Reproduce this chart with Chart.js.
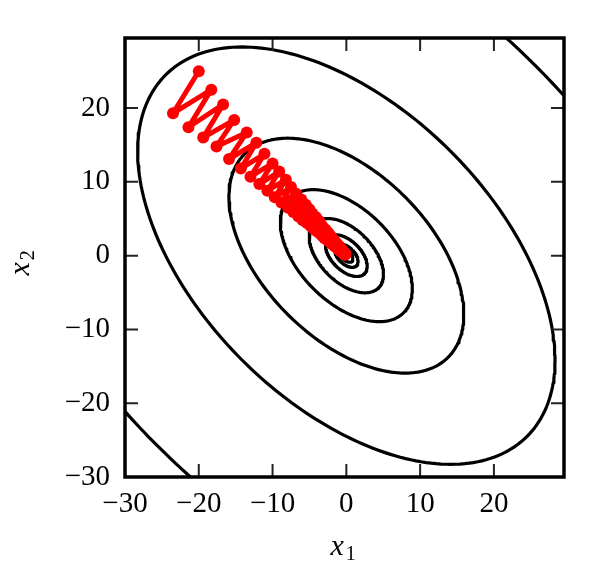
<!DOCTYPE html>
<html lang="en">
<head>
    <meta charset="UTF-8">
    <title>Gradient descent contours</title>
    <script src="https://cdn.jsdelivr.net/npm/chart.js@4.4.1/dist/chart.umd.min.js"></script>
    <style>
        body { margin: 0; background: #fff; }
        canvas { display: block; }
    </style>
</head>
<body>
    <canvas id="myChart" width="598" height="580"></canvas>
    <script>
        // axis range and tick labels
        const axisMin = -30;
        const axisMax = 29.5;
        const xTicks = [-30, -20, -10, 0, 10, 20];
        const yTicks = [-30, -20, -10, 0, 10, 20];

        // quadratic f(x) = 0.5 x^T H x, contour levels
        const hessian = [[1, 0.5], [0.5, 1]];
        const contourLevels = [0.3, 0.95, 3, 9.5, 30, 95, 300, 990];

        // gradient descent iterates
        const pathX = [-20.0, -23.5, -18.3, -21.4, -16.7, -19.4, -15.2, -17.6, -13.5, -15.9,
            -12.2, -14.3, -11.1, -13.0, -10.0, -11.8, -9.1, -10.7, -8.2, -9.7,
            -7.5, -8.8, -6.8, -7.9, -6.1, -7.2, -5.5, -6.5, -5.0, -5.9,
            -4.6, -5.3, -4.1, -4.8, -3.7, -4.4, -3.4, -4.0, -3.1, -3.6,
            -2.8, -3.3, -2.5, -3.0, -2.3, -2.7, -2.1, -2.4, -1.9, -2.2,
            -1.7, -2.0, -1.5, -1.8, -1.4, -1.6, -1.3, -1.5, -1.1, -1.3,
            -1.0, -1.2, -0.94, -1.1, -0.85, -1.0, -0.77, -0.9, -0.7, -0.82,
            -0.63, -0.74, -0.57, -0.67, -0.52, -0.61, -0.47, -0.55, -0.43, -0.5,
            -0.39, -0.45, -0.35, -0.41, -0.32, -0.37, -0.29, -0.34, -0.26, -0.31,
            -0.24, -0.28, -0.21, -0.25, -0.19, -0.23, -0.18, -0.21, -0.16, -0.19,
            -0.14, -0.17];
        const pathY = [25.0, 19.3, 22.5, 17.4, 20.5, 16.0, 18.4, 14.8, 16.7, 13.1,
            15.3, 11.8, 13.8, 10.7, 12.5, 9.7, 11.4, 8.8, 10.3, 7.9,
            9.3, 7.2, 8.4, 6.5, 7.6, 5.9, 6.9, 5.3, 6.3, 4.8,
            5.7, 4.4, 5.2, 4.0, 4.7, 3.6, 4.2, 3.3, 3.8, 3.0,
            3.5, 2.7, 3.1, 2.4, 2.9, 2.2, 2.6, 2.0, 2.3, 1.8,
            2.1, 1.6, 1.9, 1.5, 1.7, 1.3, 1.6, 1.2, 1.4, 1.1,
            1.3, 1.0, 1.17, 0.91, 1.06, 0.82, 0.96, 0.74, 0.87, 0.67,
            0.79, 0.61, 0.72, 0.55, 0.65, 0.5, 0.59, 0.46, 0.53, 0.41,
            0.48, 0.37, 0.44, 0.34, 0.4, 0.31, 0.36, 0.28, 0.33, 0.25,
            0.3, 0.23, 0.27, 0.21, 0.24, 0.19, 0.22, 0.17, 0.2, 0.15,
            0.18, 0.14];

        const fontName = "'Liberation Serif', 'Times New Roman', serif";

        function contourPoints(level) {
            const a = hessian[0][0], b = hessian[0][1], d = hessian[1][1];
            const mid = (a + d) / 2;
            const half = Math.sqrt(((a - d) / 2) ** 2 + b * b);
            const l1 = mid + half, l2 = mid - half;
            const theta = 0.5 * Math.atan2(2 * b, a - d);
            const r1 = Math.sqrt(2 * level / l1), r2 = Math.sqrt(2 * level / l2);
            const pts = [];
            for (let i = 0; i <= 240; i++) {
                const t = 2 * Math.PI * i / 240;
                const u = r1 * Math.cos(t), w = r2 * Math.sin(t);
                pts.push({
                    x: u * Math.cos(theta) - w * Math.sin(theta),
                    y: u * Math.sin(theta) + w * Math.cos(theta)
                });
            }
            return pts;
        }

        function minusLabel(v) {
            return v < 0 ? '\u2212' + Math.abs(v) : String(v);
        }

        // frame, inward ticks and axis titles
        const framePlugin = {
            id: 'frame',
            afterDraw(chart) {
                const ctx = chart.ctx;
                const area = chart.chartArea;
                const xs = chart.scales.x, ys = chart.scales.y;
                ctx.save();
                ctx.strokeStyle = '#222';
                ctx.lineWidth = 2;
                ctx.beginPath();
                xTicks.forEach(v => {
                    const px = xs.getPixelForValue(v);
                    ctx.moveTo(px, area.bottom);
                    ctx.lineTo(px, area.bottom - 13);
                    ctx.moveTo(px, area.top);
                    ctx.lineTo(px, area.top + 13);
                });
                yTicks.forEach(v => {
                    const py = ys.getPixelForValue(v);
                    ctx.moveTo(area.left, py);
                    ctx.lineTo(area.left + 13, py);
                    ctx.moveTo(area.right, py);
                    ctx.lineTo(area.right - 13, py);
                });
                ctx.stroke();

                ctx.strokeStyle = '#000';
                ctx.lineWidth = 3.5;
                ctx.strokeRect(area.left, area.top, area.right - area.left, area.bottom - area.top);

                // axis titles
                ctx.fillStyle = '#000';
                ctx.textBaseline = 'alphabetic';
                ctx.textAlign = 'left';
                ctx.font = 'italic 30px ' + fontName;
                const xw = ctx.measureText('x').width;
                const cx = (area.left + area.right) / 2;
                ctx.fillText('x', cx - 14, 555);
                ctx.font = '20px ' + fontName;
                ctx.fillText('1', cx - 14 + xw + 2, 560);

                ctx.translate(29, (area.top + area.bottom) / 2 + 18);
                ctx.rotate(-Math.PI / 2);
                ctx.font = 'italic 30px ' + fontName;
                ctx.fillText('x', 0, 0);
                ctx.font = '20px ' + fontName;
                ctx.fillText('2', xw + 2, 5);
                ctx.restore();
            }
        };

        const datasets = [{
            label: 'path',
            data: pathX.map((x, i) => ({ x: x, y: pathY[i] })),
            showLine: true,
            borderColor: '#ff0000',
            backgroundColor: '#ff0000',
            borderWidth: 5,
            borderJoinStyle: 'round',
            borderCapStyle: 'round',
            pointRadius: 6,
            pointBorderWidth: 0,
            order: 0
        }];
        contourLevels.forEach(level => {
            datasets.push({
                label: 'f = ' + level,
                data: contourPoints(level),
                showLine: true,
                borderColor: '#000',
                borderWidth: 3.2,
                borderJoinStyle: 'round',
                pointRadius: 0,
                tension: 0,
                order: 1
            });
        });

        new Chart(document.getElementById('myChart').getContext('2d'), {
            type: 'scatter',
            data: { datasets: datasets },
            options: {
                responsive: false,
                animation: false,
                devicePixelRatio: 1,
                layout: { padding: { top: 38, right: 34, left: 0, bottom: 0 } },
                plugins: { legend: { display: false }, tooltip: { enabled: false } },
                scales: {
                    x: {
                        type: 'linear',
                        min: axisMin,
                        max: axisMax,
                        grid: { display: false, drawTicks: false },
                        border: { display: false },
                        afterBuildTicks: s => { s.ticks = xTicks.map(v => ({ value: v })); },
                        afterFit: s => { s.height = 103; },
                        ticks: {
                            padding: 10,
                            color: '#000',
                            maxRotation: 0,
                            font: { family: fontName, size: 29 },
                            callback: v => minusLabel(v)
                        }
                    },
                    y: {
                        type: 'linear',
                        min: axisMin,
                        max: axisMax,
                        grid: { display: false, drawTicks: false },
                        border: { display: false },
                        afterBuildTicks: s => { s.ticks = yTicks.map(v => ({ value: v })); },
                        afterFit: s => { s.width = 125; },
                        ticks: {
                            padding: 15,
                            color: '#000',
                            font: { family: fontName, size: 29 },
                            callback: v => minusLabel(v)
                        }
                    }
                }
            },
            plugins: [framePlugin]
        });
    </script>
</body>
</html>
